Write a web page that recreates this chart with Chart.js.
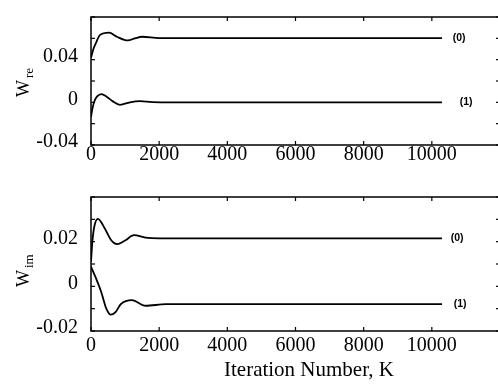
<!DOCTYPE html>
<html><head><meta charset="utf-8">
<script src="https://cdn.jsdelivr.net/npm/chart.js@4.4.1/dist/chart.umd.min.js"></script>
<style>
html,body{margin:0;padding:0;background:#fff;overflow:hidden;width:498px;height:384px}
#w1{position:absolute;left:0;top:0;width:510px;height:180px}
#w2{position:absolute;left:0;top:180px;width:510px;height:204px}
</style></head><body>
<div id="w1"><canvas id="c1"></canvas></div>
<div id="w2"><canvas id="c2"></canvas></div>
<script>
// ---- data ----
const xTickLabels = ['0','2000','4000','6000','8000','10000'];
const xTickValues = [0,2000,4000,6000,8000,10000];

// W_re, series (0)
const reK0 = [0, 70, 150, 260, 530, 760, 1080, 1290, 1500, 2000, 10300];
const reV0 = [0.0417, 0.0500, 0.0560, 0.0630, 0.0653, 0.0615, 0.0580, 0.0600, 0.0615, 0.0602, 0.0602];
// W_re, series (1)
const reK1 = [0, 40, 100, 180, 310, 450, 640, 850, 1140, 1430, 1800, 2400, 10300];
const reV1 = [-0.0136, -0.0060, 0.0010, 0.0055, 0.0077, 0.0055, 0.0009, -0.0023, 0.0000, 0.0011, 0.0002, 0.0000, 0.0000];
// W_im, series (0)
const imK0 = [0, 40, 100, 205, 400, 600, 760, 1000, 1260, 1600, 2000, 10300];
const imV0 = [0.0110, 0.0200, 0.0270, 0.0302, 0.0260, 0.0205, 0.0189, 0.0205, 0.0229, 0.0218, 0.0215, 0.0215];
// W_im, series (1)
const imK1 = [0, 150, 300, 450, 580, 720, 880, 1200, 1600, 2200, 10300];
const imV1 = [0.0088, 0.0035, -0.0025, -0.0100, -0.0127, -0.0115, -0.0079, -0.0062, -0.0087, -0.0080, -0.0080];

const seriesNames = ['(0)', '(1)'];
const reTickValues = [-0.04, 0, 0.04];
const reTickLabels = ['-0.04', '0', '0.04'];
const imTickValues = [-0.02, 0, 0.02];
const imTickLabels = ['-0.02', '0', '0.02'];
const xTitle = 'Iteration Number, K';

// ---- helpers ----
const pts = (k, v) => k.map((x, i) => ({x, y: v[i]}));
const SERIF = "'Liberation Serif','Times New Roman',serif";

function ds(k, v, name) {
  return {label: name, data: pts(k, v), borderColor: '#000', borderWidth: 1.8,
    pointRadius: 0, fill: false, cubicInterpolationMode: 'monotone'};
}

const framePlugin = {
  id: 'frame',
  afterDraw(chart, args, o) {
    const {ctx, chartArea: a, scales: {x, y}} = chart;
    ctx.save();
    ctx.strokeStyle = '#000';
    ctx.lineWidth = 1.5;
    ctx.strokeRect(a.left, a.top, a.right - a.left, a.bottom - a.top);
    ctx.lineWidth = 1.2;
    const L = 4;
    const ln = (x1, y1, x2, y2) => {ctx.beginPath(); ctx.moveTo(x1, y1); ctx.lineTo(x2, y2); ctx.stroke();};
    x.ticks.forEach(t => {const p = x.getPixelForValue(t.value); ln(p, a.bottom, p, a.bottom - L); ln(p, a.top, p, a.top + L);});
    y.ticks.forEach(t => {const p = y.getPixelForValue(t.value); ln(a.left, p, a.left + L, p); ln(a.right, p, a.right - L, p);});
    // series end labels
    ctx.fillStyle = '#000';
    ctx.font = "bold 10.5px 'Liberation Sans',Arial,sans-serif";
    ctx.textAlign = 'center';
    ctx.textBaseline = 'middle';
    chart.data.datasets.forEach((d, i) => {
      const last = d.data[d.data.length - 1];
      ctx.fillText(d.label, x.getPixelForValue(last.x) + o.labelDx[i], y.getPixelForValue(last.y) + o.labelDy[i]);
    });
    // y title with subscript
    ctx.save();
    ctx.translate(o.titleX, o.titleY);
    ctx.rotate(-Math.PI / 2);
    ctx.textAlign = 'left';
    ctx.textBaseline = 'alphabetic';
    ctx.font = '18px ' + SERIF;
    ctx.fillText('W', 0, 0);
    const w = ctx.measureText('W').width;
    ctx.font = '13px ' + SERIF;
    ctx.fillText(o.sub, w + 2, 4);
    ctx.restore();
    if (o.xTitle) {
      ctx.font = '21px ' + SERIF;
      ctx.textAlign = 'center';
      ctx.textBaseline = 'alphabetic';
      ctx.fillText(o.xTitle, o.xTitleX, o.xTitleY);
    }
    ctx.restore();
  }
};

function makeChart(id, datasets, ymin, ymax, ystep, tickVals, tickLbls, xh, pad, frameOpts, xpad) {
  return new Chart(document.getElementById(id), {
    type: 'line',
    data: {datasets},
    options: {
      responsive: true, maintainAspectRatio: false, animation: false,
      layout: {padding: pad},
      plugins: {legend: {display: false}, tooltip: {enabled: false}, frame: frameOpts},
      scales: {
        x: {type: 'linear', min: 0, max: 12000,
          grid: {display: false}, border: {display: false},
          afterFit: s => { s.height = xh; },
          afterBuildTicks: s => { s.ticks = [0,2000,4000,6000,8000,10000,12000].map(v => ({value: v})); },
          ticks: {color: '#000', font: {family: SERIF, size: 20}, padding: xpad, maxRotation: 0, autoSkip: false,
            callback: v => { const i = xTickValues.indexOf(v); return i >= 0 ? xTickLabels[i] : ''; }}},
        y: {type: 'linear', min: ymin, max: ymax,
          grid: {display: false}, border: {display: false},
          afterFit: s => { s.width = 91; },
          ticks: {stepSize: ystep, color: '#000', font: {family: SERIF, size: 20}, padding: 5, autoSkip: false, labelOffset: -3,
            callback: v => { const i = tickVals.findIndex(t => Math.abs(t - v) < 1e-9); return i >= 0 ? tickLbls[i] : ''; }}}
      }
    },
    plugins: [framePlugin]
  });
}

makeChart('c1', [ds(reK0, reV0, seriesNames[0]), ds(reK1, reV1, seriesNames[1])],
  -0.04, 0.08, 0.02, reTickValues, reTickLabels, 35, {top: 6, right: 10, left: 0, bottom: 0},
  {labelDx: [17, 24], labelDy: [0, 0], titleX: 29, titleY: 97, sub: 're'}, -10);

makeChart('c2', [ds(imK0, imV0, seriesNames[0]), ds(imK1, imV1, seriesNames[1])],
  -0.02, 0.04, 0.01, imTickValues, imTickLabels, 53, {top: 14, right: 10, left: 0, bottom: 0},
  {labelDx: [15, 18], labelDy: [0, 0], titleX: 29, titleY: 107, sub: 'im', xTitle: xTitle, xTitleX: 309, xTitleY: 196}, -5);
</script>
</body></html>
